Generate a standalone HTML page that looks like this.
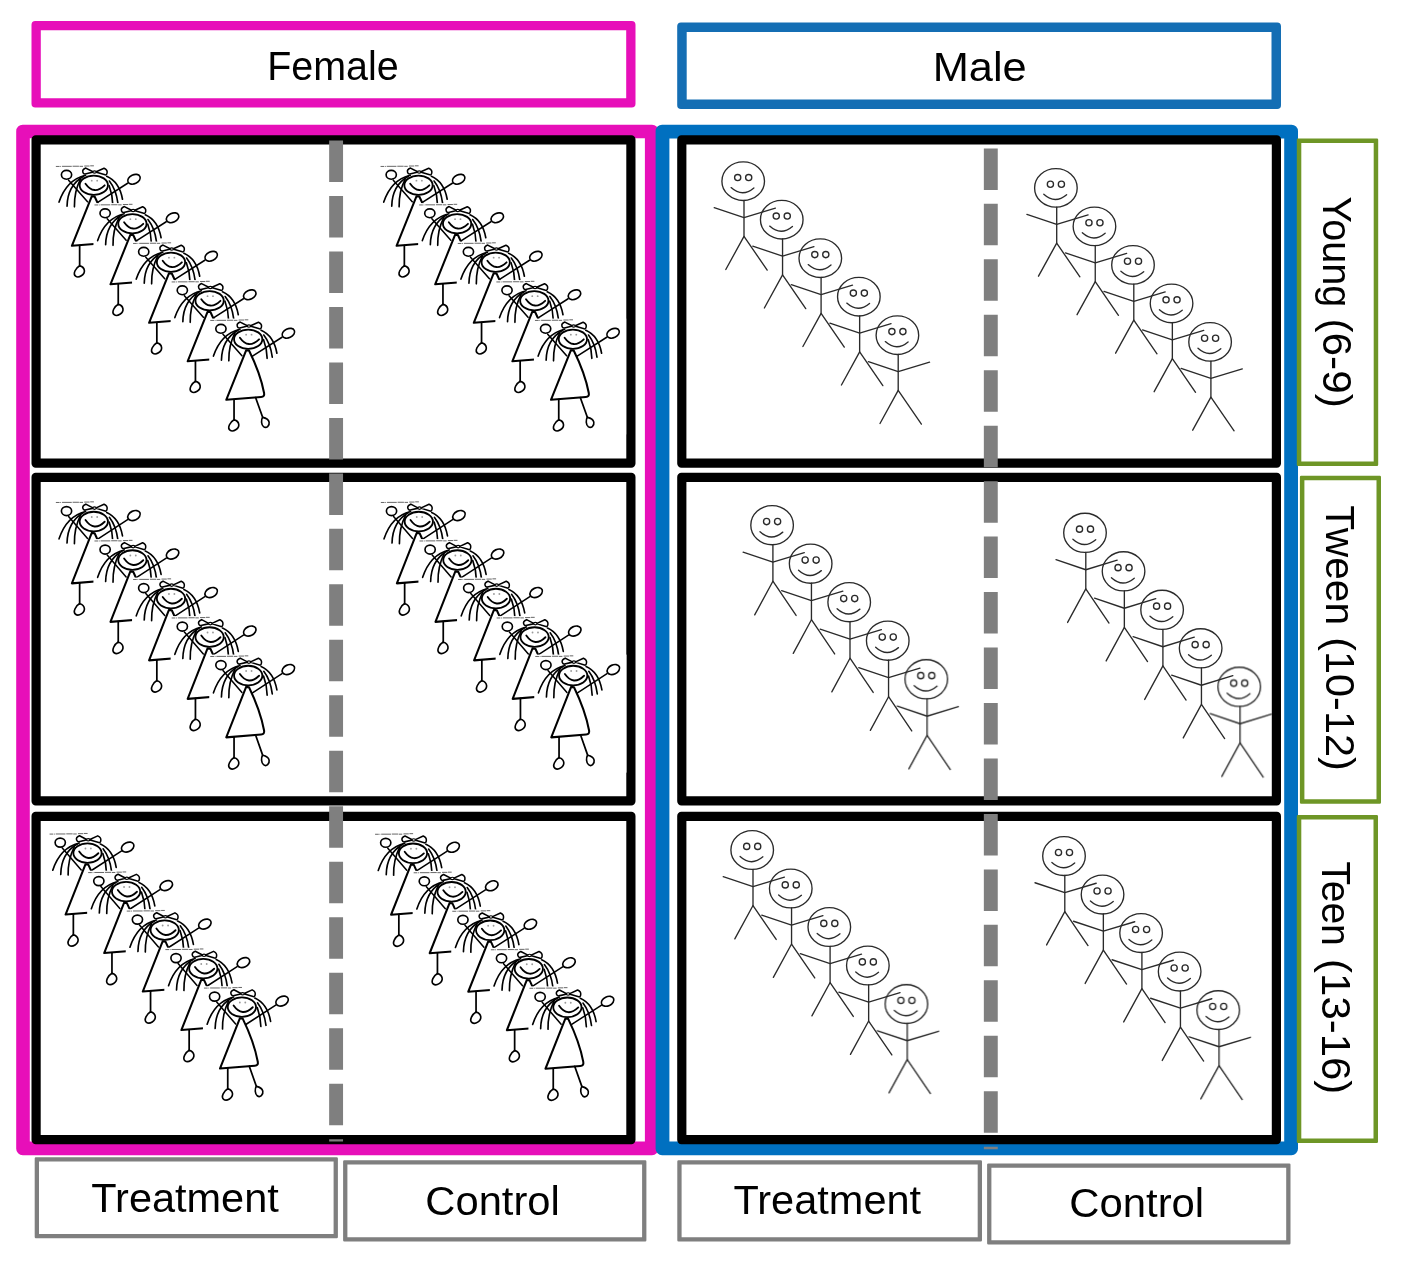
<!DOCTYPE html>
<html><head><meta charset="utf-8"><title>Design</title>
<style>html,body{margin:0;padding:0;background:#fff;}body{width:1402px;height:1268px;overflow:hidden;position:relative;font-family:"Liberation Sans",sans-serif;}</style></head>
<body>
<svg width="1402" height="1268" viewBox="0 0 1402 1268" font-family="'Liberation Sans', sans-serif" style="position:absolute;left:0;top:0;display:block">
<defs>
<g id="girl" fill="none" stroke="#000" stroke-linecap="round" stroke-linejoin="round">
  <rect x="92" y="86" width="900" height="1130" fill="#fff" stroke="none"/>
  <path d="M102 104 h36 m7 0 h8 m9 -1 h95 m8 -1 h62 m6 1 h34 m12 -3 h52 m6 -2 h36" stroke="#5a5a5a" stroke-width="9" stroke-linecap="butt"/>
  <!-- hair left -->
  <path d="M392 190 Q205 235 133 452" stroke-width="16"/>
  <path d="M372 200 Q215 290 211 492" stroke-width="16"/>
  <path d="M343 226 Q280 350 283 498" stroke-width="16"/>
  <!-- hair right -->
  <path d="M598 200 Q722 255 752 424" stroke-width="16"/>
  <path d="M624 246 Q690 330 707 462" stroke-width="16"/>
  <path d="M622 292 Q655 380 657 474" stroke-width="16"/>
  <!-- head -->
  <ellipse cx="472" cy="287" rx="138" ry="94" fill="#fff" stroke-width="18"/>
  <!-- bow -->
  <path d="M468 158 L394 120 Q356 134 366 162 Q372 180 388 177 Z" fill="#fff" stroke-width="15"/>
  <path d="M490 158 L572 121 Q606 136 602 164 Q598 190 582 186 Z" fill="#fff" stroke-width="15"/>
  <ellipse cx="479" cy="158" rx="17" ry="11" fill="#fff" stroke-width="12"/>
  <!-- face -->
  <circle cx="452" cy="243" r="9" fill="#9a9a9a" stroke="none"/>
  <circle cx="505" cy="243" r="9" fill="#9a9a9a" stroke="none"/>
  <path d="M391 272 Q474 388 578 288" stroke-width="18"/>
  <!-- arms -->
  <path d="M226 238 L411 449" stroke-width="15"/>
  <ellipse cx="206" cy="186" rx="50" ry="43" stroke-width="16"/>
  <path d="M514 452 L802 268" stroke-width="15"/>
  <ellipse cx="864" cy="229" rx="64" ry="44" transform="rotate(-25 864 229)" stroke-width="16"/>
  <!-- dress -->
  <path d="M452 395 L258 878 L598 851 Q634 848 627 812 Q590 620 480 398 Z" fill="#fff" stroke-width="20"/>
  <!-- legs -->
  <path d="M334 876 L334 1074" stroke-width="17"/>
  <path d="M334 1072 C298 1092 264 1150 294 1174 C324 1198 386 1160 380 1118 C376 1092 352 1078 336 1074 Z" stroke-width="16"/>
  <path d="M544 856 L613 1048" stroke-width="17"/>
  <path d="M612 1050 C597 1075 598 1120 622 1140 C650 1162 682 1130 676 1096 C670 1070 640 1056 614 1050 Z" stroke-width="16"/>
</g>

<g id="boy" fill="none" stroke="#2b2b2b" stroke-width="1.35" stroke-linecap="round" stroke-linejoin="round">
  <ellipse cx="0" cy="0" rx="21.3" ry="19.3"/>
  <circle cx="-5.5" cy="-3.6" r="3.1"/>
  <circle cx="5.5" cy="-3.6" r="3.1"/>
  <path d="M-12.1 6.4 Q-0.9 16.6 10.7 6.8"/>
  <path d="M0.8 19.3 V55.2"/>
  <path d="M-29 26.5 L0.8 36.4 L32.2 27"/>
  <path d="M-17.4 88.3 L0.8 55.2 L24 88.9"/>
</g>
</defs>
<rect width="1402" height="1268" fill="#fff"/>
<path d="M22.70 124.70 H652.00 A6.5 6.5 0 0 1 658.50 131.20 V1148.70 A6.5 6.5 0 0 1 652.00 1155.20 H22.70 A6.5 6.5 0 0 1 16.20 1148.70 V131.20 A6.5 6.5 0 0 1 22.70 124.70 Z M29.80 138.30 V1141.60 H644.90 V138.30 Z" fill="#E70FB9" fill-rule="evenodd"/>
<path d="M662.10 124.70 H1291.50 A6.5 6.5 0 0 1 1298.00 131.20 V1148.70 A6.5 6.5 0 0 1 1291.50 1155.20 H662.10 A6.5 6.5 0 0 1 655.60 1148.70 V131.20 A6.5 6.5 0 0 1 662.10 124.70 Z M669.40 138.50 V1141.40 H1284.20 V138.50 Z" fill="#0070C0" fill-rule="evenodd"/>
<rect x="40.30" y="29.80" width="586.40" height="69.00" fill="#fff"/><path d="M35.30 21.00 H631.70 A3.8 3.8 0 0 1 635.50 24.80 V103.80 A3.8 3.8 0 0 1 631.70 107.60 H35.30 A3.8 3.8 0 0 1 31.50 103.80 V24.80 A3.8 3.8 0 0 1 35.30 21.00 Z M40.80 30.30 V98.30 H626.20 V30.30 Z" fill="#E70FB9" fill-rule="evenodd"/>
<rect x="686.20" y="31.50" width="585.80" height="68.60" fill="#fff"/><path d="M681.00 22.50 H1277.20 A3.8 3.8 0 0 1 1281.00 26.30 V105.30 A3.8 3.8 0 0 1 1277.20 109.10 H681.00 A3.8 3.8 0 0 1 677.20 105.30 V26.30 A3.8 3.8 0 0 1 681.00 22.50 Z M686.70 32.00 V99.60 H1271.50 V32.00 Z" fill="#146EB4" fill-rule="evenodd"/>
<rect x="40.20" y="144.00" width="586.60" height="315.00" fill="#fff"/><path d="M35.70 135.30 H631.30 A4.2 4.2 0 0 1 635.50 139.50 V463.50 A4.2 4.2 0 0 1 631.30 467.70 H35.70 A4.2 4.2 0 0 1 31.50 463.50 V139.50 A4.2 4.2 0 0 1 35.70 135.30 Z M40.70 144.50 V458.50 H626.30 V144.50 Z" fill="#000" fill-rule="evenodd"/>
<rect x="685.90" y="144.00" width="586.40" height="315.00" fill="#fff"/><path d="M681.40 135.30 H1276.80 A4.2 4.2 0 0 1 1281.00 139.50 V463.50 A4.2 4.2 0 0 1 1276.80 467.70 H681.40 A4.2 4.2 0 0 1 677.20 463.50 V139.50 A4.2 4.2 0 0 1 681.40 135.30 Z M686.40 144.50 V458.50 H1271.80 V144.50 Z" fill="#000" fill-rule="evenodd"/>
<rect x="40.20" y="481.40" width="586.60" height="315.30" fill="#fff"/><path d="M35.70 472.70 H631.30 A4.2 4.2 0 0 1 635.50 476.90 V801.20 A4.2 4.2 0 0 1 631.30 805.40 H35.70 A4.2 4.2 0 0 1 31.50 801.20 V476.90 A4.2 4.2 0 0 1 35.70 472.70 Z M40.70 481.90 V796.20 H626.30 V481.90 Z" fill="#000" fill-rule="evenodd"/>
<rect x="685.90" y="481.40" width="586.40" height="315.30" fill="#fff"/><path d="M681.40 472.70 H1276.80 A4.2 4.2 0 0 1 1281.00 476.90 V801.20 A4.2 4.2 0 0 1 1276.80 805.40 H681.40 A4.2 4.2 0 0 1 677.20 801.20 V476.90 A4.2 4.2 0 0 1 681.40 472.70 Z M686.40 481.90 V796.20 H1271.80 V481.90 Z" fill="#000" fill-rule="evenodd"/>
<rect x="40.20" y="820.40" width="586.60" height="315.10" fill="#fff"/><path d="M35.70 811.70 H631.30 A4.2 4.2 0 0 1 635.50 815.90 V1140.00 A4.2 4.2 0 0 1 631.30 1144.20 H35.70 A4.2 4.2 0 0 1 31.50 1140.00 V815.90 A4.2 4.2 0 0 1 35.70 811.70 Z M40.70 820.90 V1135.00 H626.30 V820.90 Z" fill="#000" fill-rule="evenodd"/>
<rect x="685.90" y="820.40" width="586.40" height="315.10" fill="#fff"/><path d="M681.40 811.70 H1276.80 A4.2 4.2 0 0 1 1281.00 815.90 V1140.00 A4.2 4.2 0 0 1 1276.80 1144.20 H681.40 A4.2 4.2 0 0 1 677.20 1140.00 V815.90 A4.2 4.2 0 0 1 681.40 811.70 Z M686.40 820.90 V1135.00 H1271.80 V820.90 Z" fill="#000" fill-rule="evenodd"/>
<clipPath id="cf"><rect x="40.7" y="0" width="586" height="1268"/></clipPath>
<clipPath id="cm"><rect x="686.4" y="0" width="585.8" height="1268"/></clipPath>
<filter id="gb" x="0" y="0" width="100%" height="100%" filterUnits="userSpaceOnUse"><feGaussianBlur stdDeviation="0.45"/></filter>
<g clip-path="url(#cf)"><g filter="url(#gb)">
<use href="#girl" transform="translate(45.41,155.78) scale(0.10251,0.10251)"/>
<use href="#girl" transform="translate(84.01,194.28) scale(0.10251,0.10251)"/>
<use href="#girl" transform="translate(122.61,232.78) scale(0.10251,0.10251)"/>
<use href="#girl" transform="translate(161.21,271.28) scale(0.10251,0.10251)"/>
<use href="#girl" transform="translate(199.81,309.78) scale(0.10251,0.10251)"/>
<use href="#girl" transform="translate(370.11,155.78) scale(0.10251,0.10251)"/>
<use href="#girl" transform="translate(408.71,194.28) scale(0.10251,0.10251)"/>
<use href="#girl" transform="translate(447.31,232.78) scale(0.10251,0.10251)"/>
<use href="#girl" transform="translate(485.91,271.28) scale(0.10251,0.10251)"/>
<use href="#girl" transform="translate(524.51,309.78) scale(0.10251,0.10251)"/>
<use href="#girl" transform="translate(45.41,491.62) scale(0.10251,0.10446)"/>
<use href="#girl" transform="translate(84.01,530.12) scale(0.10251,0.10446)"/>
<use href="#girl" transform="translate(122.61,568.62) scale(0.10251,0.10446)"/>
<use href="#girl" transform="translate(161.21,607.12) scale(0.10251,0.10446)"/>
<use href="#girl" transform="translate(199.81,645.62) scale(0.10251,0.10446)"/>
<use href="#girl" transform="translate(370.41,491.62) scale(0.10251,0.10446)"/>
<use href="#girl" transform="translate(409.01,530.12) scale(0.10251,0.10446)"/>
<use href="#girl" transform="translate(447.61,568.62) scale(0.10251,0.10446)"/>
<use href="#girl" transform="translate(486.21,607.12) scale(0.10251,0.10446)"/>
<use href="#girl" transform="translate(524.81,645.62) scale(0.10251,0.10446)"/>
<use href="#girl" transform="translate(39.11,823.27) scale(0.10251,0.10395)"/>
<use href="#girl" transform="translate(77.71,861.77) scale(0.10251,0.10395)"/>
<use href="#girl" transform="translate(116.31,900.27) scale(0.10251,0.10395)"/>
<use href="#girl" transform="translate(154.91,938.77) scale(0.10251,0.10395)"/>
<use href="#girl" transform="translate(193.51,977.27) scale(0.10251,0.10395)"/>
<use href="#girl" transform="translate(364.61,823.47) scale(0.10251,0.10395)"/>
<use href="#girl" transform="translate(403.21,861.97) scale(0.10251,0.10395)"/>
<use href="#girl" transform="translate(441.81,900.47) scale(0.10251,0.10395)"/>
<use href="#girl" transform="translate(480.41,938.97) scale(0.10251,0.10395)"/>
<use href="#girl" transform="translate(519.01,977.47) scale(0.10251,0.10395)"/>
</g></g>
<filter id="bb" x="0" y="0" width="100%" height="100%" filterUnits="userSpaceOnUse"><feGaussianBlur stdDeviation="0.3"/></filter>
<g clip-path="url(#cm)"><g filter="url(#bb)">
<use href="#boy" transform="translate(743.20,181.20) scale(1,1.0)"/>
<use href="#boy" transform="translate(781.75,219.70) scale(1,1.0)"/>
<use href="#boy" transform="translate(820.30,258.20) scale(1,1.0)"/>
<use href="#boy" transform="translate(858.85,296.70) scale(1,1.0)"/>
<use href="#boy" transform="translate(897.40,335.20) scale(1,1.0)"/>
<use href="#boy" transform="translate(1055.90,187.90) scale(1,1.0)"/>
<use href="#boy" transform="translate(1094.45,226.40) scale(1,1.0)"/>
<use href="#boy" transform="translate(1133.00,264.90) scale(1,1.0)"/>
<use href="#boy" transform="translate(1171.55,303.40) scale(1,1.0)"/>
<use href="#boy" transform="translate(1210.10,341.90) scale(1,1.0)"/>
<use href="#boy" transform="translate(772.10,525.20) scale(1,1.015)"/>
<use href="#boy" transform="translate(810.65,563.70) scale(1,1.015)"/>
<use href="#boy" transform="translate(849.20,602.20) scale(1,1.015)"/>
<use href="#boy" transform="translate(887.75,640.70) scale(1,1.015)"/>
<use href="#boy" transform="translate(926.30,679.20) scale(1,1.015)"/>
<use href="#boy" transform="translate(1085.00,532.80) scale(1,1.015)"/>
<use href="#boy" transform="translate(1123.55,571.30) scale(1,1.015)"/>
<use href="#boy" transform="translate(1162.10,609.80) scale(1,1.015)"/>
<use href="#boy" transform="translate(1200.65,648.30) scale(1,1.015)"/>
<use href="#boy" transform="translate(1239.20,686.80) scale(1,1.015)"/>
<use href="#boy" transform="translate(752.20,850.00) scale(1,1.006)"/>
<use href="#boy" transform="translate(790.75,888.50) scale(1,1.006)"/>
<use href="#boy" transform="translate(829.30,927.00) scale(1,1.006)"/>
<use href="#boy" transform="translate(867.85,965.50) scale(1,1.006)"/>
<use href="#boy" transform="translate(906.40,1004.00) scale(1,1.006)"/>
<use href="#boy" transform="translate(1064.00,856.10) scale(1,1.006)"/>
<use href="#boy" transform="translate(1102.55,894.60) scale(1,1.006)"/>
<use href="#boy" transform="translate(1141.10,933.10) scale(1,1.006)"/>
<use href="#boy" transform="translate(1179.65,971.60) scale(1,1.006)"/>
<use href="#boy" transform="translate(1218.20,1010.10) scale(1,1.006)"/>
</g></g>
<line x1="336.1" y1="140.5" x2="336.1" y2="1141.5" stroke="#7F7F7F" stroke-width="13.9" stroke-dasharray="41.5 13.98"/>
<line x1="990.8" y1="148.4" x2="990.8" y2="1149.3" stroke="#7F7F7F" stroke-width="13.9" stroke-dasharray="41.5 13.96"/>
<rect x="1300.80" y="142.50" width="73.40" height="319.50" fill="#fff"/><path d="M1298.00 138.50 H1377.00 A1.2 1.2 0 0 1 1378.20 139.70 V464.80 A1.2 1.2 0 0 1 1377.00 466.00 H1298.00 A1.2 1.2 0 0 1 1296.80 464.80 V139.70 A1.2 1.2 0 0 1 1298.00 138.50 Z M1301.30 143.00 V461.50 H1373.70 V143.00 Z" fill="#6E9626" fill-rule="evenodd"/>
<rect x="1303.90" y="479.70" width="73.10" height="320.00" fill="#fff"/><path d="M1301.10 475.70 H1379.80 A1.2 1.2 0 0 1 1381.00 476.90 V802.50 A1.2 1.2 0 0 1 1379.80 803.70 H1301.10 A1.2 1.2 0 0 1 1299.90 802.50 V476.90 A1.2 1.2 0 0 1 1301.10 475.70 Z M1304.40 480.20 V799.20 H1376.50 V480.20 Z" fill="#6E9626" fill-rule="evenodd"/>
<rect x="1300.80" y="819.10" width="73.20" height="319.80" fill="#fff"/><path d="M1298.00 815.10 H1376.80 A1.2 1.2 0 0 1 1378.00 816.30 V1141.70 A1.2 1.2 0 0 1 1376.80 1142.90 H1298.00 A1.2 1.2 0 0 1 1296.80 1141.70 V816.30 A1.2 1.2 0 0 1 1298.00 815.10 Z M1301.30 819.60 V1138.40 H1373.50 V819.60 Z" fill="#6E9626" fill-rule="evenodd"/>
<rect x="38.50" y="1161.10" width="295.60" height="73.40" fill="#fff"/><path d="M35.90 1157.30 H336.70 A1.2 1.2 0 0 1 337.90 1158.50 V1237.10 A1.2 1.2 0 0 1 336.70 1238.30 H35.90 A1.2 1.2 0 0 1 34.70 1237.10 V1158.50 A1.2 1.2 0 0 1 35.90 1157.30 Z M39.00 1161.60 V1234.00 H333.60 V1161.60 Z" fill="#7F7F7F" fill-rule="evenodd"/>
<rect x="346.90" y="1164.10" width="295.70" height="73.60" fill="#fff"/><path d="M344.30 1160.30 H645.20 A1.2 1.2 0 0 1 646.40 1161.50 V1240.30 A1.2 1.2 0 0 1 645.20 1241.50 H344.30 A1.2 1.2 0 0 1 343.10 1240.30 V1161.50 A1.2 1.2 0 0 1 344.30 1160.30 Z M347.40 1164.60 V1237.20 H642.10 V1164.60 Z" fill="#7F7F7F" fill-rule="evenodd"/>
<rect x="681.10" y="1164.10" width="297.10" height="73.60" fill="#fff"/><path d="M678.50 1160.30 H980.80 A1.2 1.2 0 0 1 982.00 1161.50 V1240.30 A1.2 1.2 0 0 1 980.80 1241.50 H678.50 A1.2 1.2 0 0 1 677.30 1240.30 V1161.50 A1.2 1.2 0 0 1 678.50 1160.30 Z M681.60 1164.60 V1237.20 H977.70 V1164.60 Z" fill="#7F7F7F" fill-rule="evenodd"/>
<rect x="990.90" y="1167.20" width="295.80" height="73.50" fill="#fff"/><path d="M988.30 1163.40 H1289.30 A1.2 1.2 0 0 1 1290.50 1164.60 V1243.30 A1.2 1.2 0 0 1 1289.30 1244.50 H988.30 A1.2 1.2 0 0 1 987.10 1243.30 V1164.60 A1.2 1.2 0 0 1 988.30 1163.40 Z M991.40 1167.70 V1240.20 H1286.20 V1167.70 Z" fill="#7F7F7F" fill-rule="evenodd"/>
<g opacity="0.999">
<text x="267.17" y="79.60" font-size="40.0" textLength="131.49" lengthAdjust="spacingAndGlyphs" fill="#000">Female</text>
<text x="932.74" y="81.10" font-size="40.0" textLength="93.99" lengthAdjust="spacingAndGlyphs" fill="#000">Male</text>
<text x="91.29" y="1212.10" font-size="40.0" textLength="187.50" lengthAdjust="spacingAndGlyphs" fill="#000">Treatment</text>
<text x="425.37" y="1215.20" font-size="40.0" textLength="134.34" lengthAdjust="spacingAndGlyphs" fill="#000">Control</text>
<text x="733.49" y="1213.70" font-size="40.0" textLength="187.61" lengthAdjust="spacingAndGlyphs" fill="#000">Treatment</text>
<text x="1069.27" y="1216.80" font-size="40.0" textLength="134.86" lengthAdjust="spacingAndGlyphs" fill="#000">Control</text>
<text transform="translate(1322.70,196.53) rotate(90)" x="0" y="0" font-size="40.0" textLength="110.80" lengthAdjust="spacingAndGlyphs" fill="#000">Young</text>
<text transform="translate(1322.70,318.48) rotate(90)" x="0" y="0" font-size="40.0" textLength="89.36" lengthAdjust="spacingAndGlyphs" fill="#000">(6-9)</text>
<text transform="translate(1325.70,505.21) rotate(90)" x="0" y="0" font-size="40.0" textLength="119.85" lengthAdjust="spacingAndGlyphs" fill="#000">Tween</text>
<text transform="translate(1325.70,637.23) rotate(90)" x="0" y="0" font-size="40.0" textLength="133.52" lengthAdjust="spacingAndGlyphs" fill="#000">(10-12)</text>
<text transform="translate(1322.40,861.24) rotate(90)" x="0" y="0" font-size="40.0" textLength="84.51" lengthAdjust="spacingAndGlyphs" fill="#000">Teen</text>
<text transform="translate(1322.40,959.10) rotate(90)" x="0" y="0" font-size="40.0" textLength="135.19" lengthAdjust="spacingAndGlyphs" fill="#000">(13-16)</text>
</g>
</svg>
</body></html>
